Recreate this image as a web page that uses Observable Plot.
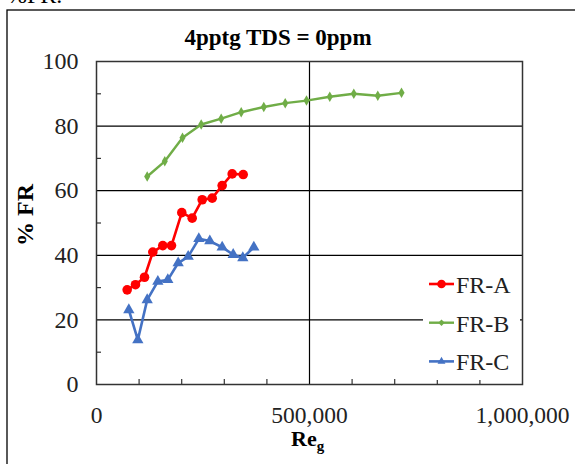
<!DOCTYPE html>
<html>
<head>
<meta charset="utf-8">
<script src="https://cdn.jsdelivr.net/npm/d3@7"></script>
<script src="https://cdn.jsdelivr.net/npm/@observablehq/plot@0.6"></script>
<style>
  html, body { margin: 0; padding: 0; background: #fff; }
  #wrap { position: relative; width: 575px; height: 464px; overflow: hidden; font-family: "Liberation Serif", "Times New Roman", serif; }
  #wrap > svg { position: absolute; left: 0; top: 0; }
</style>
</head>
<body>
<div id="wrap"></div>
<script>
// ---- data ----
const seriesNames = ["FR-A", "FR-B", "FR-C"];
const seriesColors = ["#FF0000", "#70AD47", "#4472C4"];
const seriesSymbols = ["circle", "diamond", "triangle"];

const xA = [72000, 91500, 112700, 132200, 155600, 176000, 200200, 224600, 248100, 271600, 295000, 318500, 344400];
const yA = [29.3, 30.9, 33.2, 41.0, 43.0, 43.0, 53.2, 51.5, 57.2, 57.7, 61.6, 65.2, 65.0];

const xB = [119000, 160300, 201900, 245800, 292700, 339700, 392700, 443000, 493000, 547600, 604000, 660300, 716000];
const yB = [64.4, 69.1, 76.4, 80.5, 82.3, 84.3, 85.9, 87.1, 87.9, 89.1, 90.0, 89.4, 90.3];

const xC = [75900, 97000, 119000, 144000, 167400, 191700, 215200, 240200, 266000, 295000, 320900, 343500, 369300];
const yC = [23.1, 13.8, 26.2, 31.9, 32.4, 37.6, 39.6, 45.1, 44.4, 42.5, 40.2, 39.2, 42.5];

const xTickLabels = [0, 500000, 1000000];
const xMinorTicks = [100000, 200000, 300000, 400000, 600000, 700000, 800000, 900000];
const yTickLabels = [0, 20, 40, 60, 80, 100];
const yMinorTicks = [10, 30, 50, 70, 90];
const yGrid = [20, 40, 60, 80];
const xGrid = [500000];

const titleText = "4pptg TDS = 0ppm";
const yLabel = "% FR";
const xLabelMain = "Re";
const xLabelSub = "g";

// ---- build table ----
const xs = [xA, xB, xC], ys = [yA, yB, yC];
const data = [];
seriesNames.forEach((s, i) => xs[i].forEach((x, j) => data.push({series: s, x, y: ys[i][j]})));
const bySeries = s => data.filter(d => d.series === s);

const W = 575, H = 464;
const mL = 96, mR = 53, mT = 61, mB = 80;
const dotR = [4.8, 3.2, 4.2];
const lineW = [2.6, 2.4, 2.6];
const tickPx = 5;
// tick lengths expressed in data units of each scale
const xTickLen = tickPx * 1000000 / (W - mL - mR);
const yTickLen = tickPx * 100 / (H - mT - mB);

const marks = [
  Plot.ruleY(yGrid, {stroke: "#000", strokeWidth: 1.2}),
  Plot.ruleX(xGrid, {stroke: "#000", strokeWidth: 1.2}),
  Plot.ruleY(yMinorTicks, {x1: 0, x2: xTickLen, stroke: "#333", strokeWidth: 1.2}),
  Plot.ruleX(xMinorTicks, {y1: 0, y2: yTickLen, stroke: "#333", strokeWidth: 1.2}),
  Plot.axisY(yTickLabels, {anchor: "left", tickSize: 0, tickPadding: 18, fontSize: 24, label: null, fill: "#222"}),
  Plot.axisX(xTickLabels, {anchor: "bottom", tickSize: 0, tickPadding: 22, fontSize: 23.5, label: null, fill: "#222", tickFormat: d3.format(",")}),
  Plot.frame({stroke: "#333", strokeWidth: 1.5})
];
seriesNames.forEach((s, i) => {
  marks.push(Plot.line(bySeries(s), {x: "x", y: "y", stroke: seriesColors[i], strokeWidth: lineW[i], curve: "linear"}));
  marks.push(Plot.dot(bySeries(s), {x: "x", y: "y", fill: seriesColors[i], stroke: "none", r: dotR[i], symbol: seriesSymbols[i]}));
});

const chart = Plot.plot({
  width: W, height: H,
  marginLeft: mL, marginRight: mR, marginTop: mT, marginBottom: mB,
  x: {domain: [0, 1000000], axis: null},
  y: {domain: [0, 100], axis: null},
  style: {fontFamily: "'Liberation Serif', 'Times New Roman', serif", fontSize: "24px", background: "transparent"},
  marks
});
const wrap = document.getElementById("wrap");
wrap.appendChild(chart);

// ---- overlay: border, title, axis titles, legend ----
const NS = "http://www.w3.org/2000/svg";
const ov = document.createElementNS(NS, "svg");
ov.setAttribute("width", W); ov.setAttribute("height", H);
ov.style.position = "absolute"; ov.style.left = "0"; ov.style.top = "0";
ov.setAttribute("font-family", "'Liberation Serif', 'Times New Roman', serif");
wrap.appendChild(ov);
function el(tag, attrs, text) {
  const e = document.createElementNS(NS, tag);
  for (const k in attrs) e.setAttribute(k, attrs[k]);
  if (text != null) e.textContent = text;
  ov.appendChild(e);
  return e;
}
// outer chart-area border (extends past the window on right and bottom)
el("rect", {x: 7, y: 10, width: 600, height: 500, fill: "none", stroke: "#000", "stroke-width": 1.3});
// cropped document text above the chart
el("text", {x: 7, y: 3, "font-size": 24, fill: "#000"}, "%FR.");
// title
el("text", {x: 278, y: 45, "text-anchor": "middle", "font-size": 23, "font-weight": "bold", fill: "#000"}, titleText);
// y title
el("text", {transform: "translate(33,215) rotate(-90)", "text-anchor": "middle", "font-size": 24, "font-weight": "bold", fill: "#000"}, yLabel);
// x title with subscript
const xt = el("text", {x: 291, y: 446, "font-size": 22, "font-weight": "bold", fill: "#000"});
const t1 = document.createElementNS(NS, "tspan"); t1.textContent = xLabelMain; xt.appendChild(t1);
const t2 = document.createElementNS(NS, "tspan"); t2.textContent = xLabelSub; t2.setAttribute("font-size", 15); t2.setAttribute("dy", 5); xt.appendChild(t2);

// legend
el("rect", {x: 423, y: 268, width: 97, height: 112, fill: "#fff"});
const symPath = {
  circle: r => d3.symbol(d3.symbolCircle, Math.PI * r * r)(),
  diamond: r => d3.symbol(d3.symbolDiamond2, Math.PI * r * r)(),
  triangle: r => d3.symbol(d3.symbolTriangle2, Math.PI * r * r)()
};
seriesNames.forEach((s, i) => {
  const cy = 284 + i * 38.7;
  el("line", {x1: 429, x2: 454, y1: cy, y2: cy, stroke: seriesColors[i], "stroke-width": lineW[i]});
  el("path", {d: symPath[seriesSymbols[i]](dotR[i] * 0.9), transform: `translate(441.5,${cy})`, fill: seriesColors[i]});
  el("text", {x: 456, y: cy + 9, "font-size": 24, fill: "#222"}, s);
});
</script>
</body>
</html>
